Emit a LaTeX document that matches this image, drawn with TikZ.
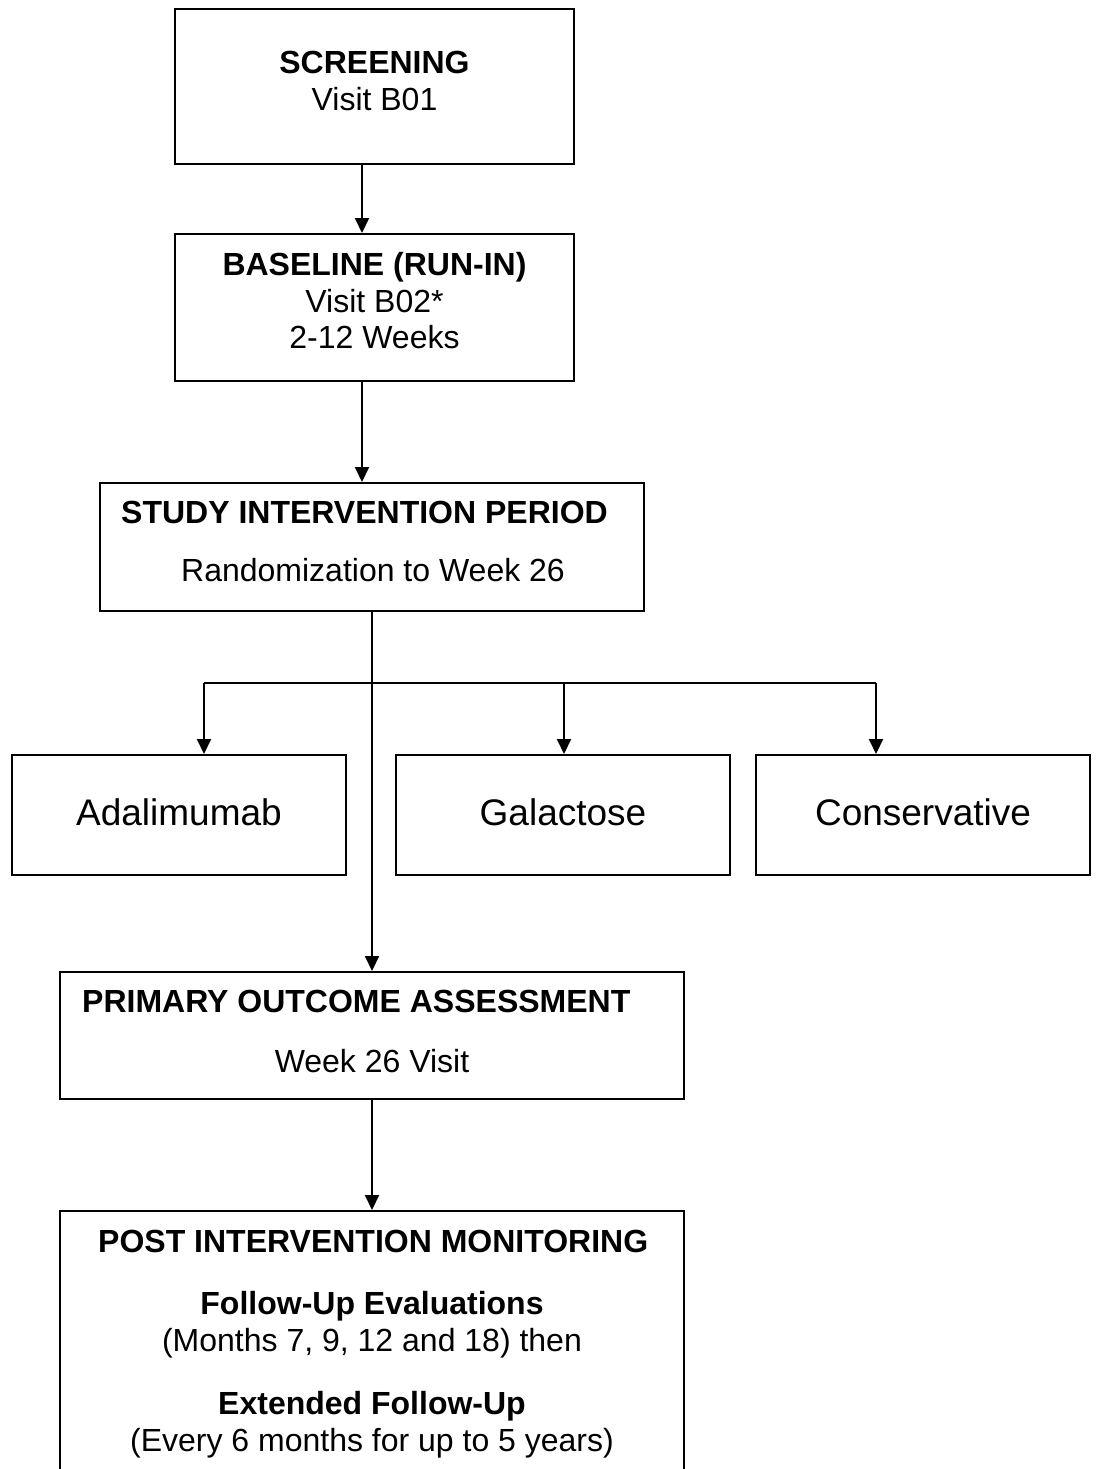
\documentclass[tikz,border=0pt]{standalone}
\usepackage{fontspec}
\setmainfont{Liberation Sans}
\usetikzlibrary{arrows.meta}
\begin{document}
\begin{tikzpicture}[x=1pt,y=-1pt,
  box/.style={draw, line width=2pt, inner sep=0pt, rectangle},
  arr/.style={line width=2pt, -{Triangle[length=15pt,width=14pt]}},
  ln/.style={line width=2pt},
  txt/.style={inner sep=0pt, anchor=base, font=\fontsize{32}{37}\selectfont},
  btxt/.style={inner sep=0pt, anchor=base, font=\fontsize{32}{37}\selectfont\bfseries},
  bigtxt/.style={inner sep=0pt, anchor=base, font=\fontsize{37}{42}\selectfont}]
\fill[white] (0,0) rectangle (1097,1469);
\clip (0,0) rectangle (1097,1469);
% boxes
\node[box, minimum width=399pt, minimum height=155pt] (scr) at (374.5,86.5) {};
\node[box, minimum width=399pt, minimum height=147pt] (base) at (374.5,307.5) {};
\node[box, minimum width=544pt, minimum height=128pt] (study) at (372,547) {};
\node[box, minimum width=334pt, minimum height=120pt] (adal) at (179,815) {};
\node[box, minimum width=334pt, minimum height=120pt] (gal) at (563,815) {};
\node[box, minimum width=334pt, minimum height=120pt] (cons) at (923,815) {};
\node[box, minimum width=624pt, minimum height=127pt] (prim) at (372,1035.5) {};
\node[box, minimum width=624pt, minimum height=289pt] (post) at (372,1355.5) {};
% texts
\node[btxt] (t1) at (374.5,74) {SCREENING};
\node[txt] (t2) at (374.5,111) {Visit B01};
\node[btxt] (t3) at (374.5,275) {BASELINE (RUN-IN)};
\node[txt] (t4) at (374.5,312) {Visit B02*};
\node[txt] (t5) at (374.5,348) {2-12 Weeks};
\node[btxt, anchor=base west] (t6) at (121,523) {STUDY INTERVENTION PERIOD};
\node[txt] (t7) at (373,581) {Randomization to Week 26};
\node[bigtxt] (t8) at (179,825) {Adalimumab};
\node[bigtxt] (t9) at (563,825) {Galactose};
\node[bigtxt] (t10) at (923,825) {Conservative};
\node[btxt, anchor=base west] (t11) at (82,1012) {PRIMARY OUTCOME ASSESSMENT};
\node[txt] (t12) at (372,1072) {Week 26 Visit};
\node[btxt, anchor=base west] (t13) at (98,1252) {POST INTERVENTION MONITORING};
\node[btxt] (t14) at (372,1314) {Follow-Up Evaluations};
\node[txt] (t15) at (372,1351) {(Months 7, 9, 12 and 18) then};
\node[btxt] (t16) at (372,1414) {Extended Follow-Up};
\node[txt] (t17) at (372,1451) {(Every 6 months for up to 5 years)};
% connectors
\draw[arr] ([xshift=-12.5pt]scr.south) -- ([xshift=-12.5pt]base.north);
\draw[arr] ([xshift=-12.5pt]base.south) -- ([xshift=-10pt]study.north);
\coordinate (b1) at (204,683);
\coordinate (b2) at (564,683);
\coordinate (b3) at (876,683);
\draw[ln] (b1) -- (b3);
\draw[arr] (study.south) -- (prim.north);
\draw[arr] (b1) -- (b1 |- adal.north);
\draw[arr] (b2) -- (b2 |- gal.north);
\draw[arr] (b3) -- (b3 |- cons.north);
\draw[arr] (prim.south) -- (post.north);
\end{tikzpicture}
\end{document}
